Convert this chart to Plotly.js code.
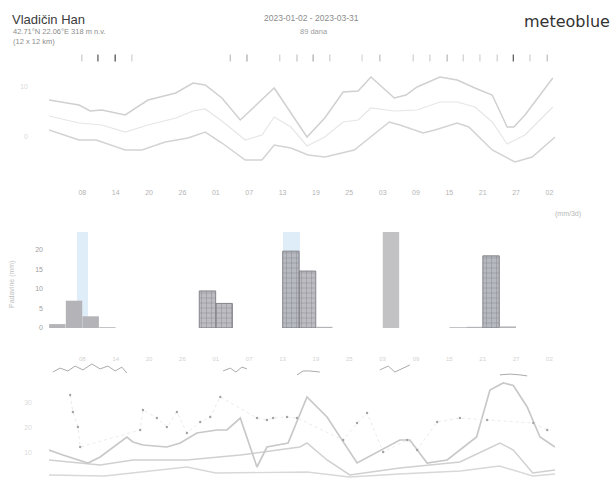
<!DOCTYPE html>
<html>
<head>
<meta charset="utf-8">
<script src="https://cdn.plot.ly/plotly-3.0.1.min.js"></script>
<style>html,body{margin:0;padding:0;background:#fff;}#chart{width:616px;height:478px;}</style>
</head>
<body>
<div id="chart"></div>
<script>
// ---- Data (day index from start of the axis) ----
// Temperature panel (°C)
const tMaxDays = [0,5.4,7.4,9.5,13.7,17.8,22.8,25.9,28.1,31.1,34.4,40.5,46.4,49.6,52.9,55.6,57.9,62.1,64.2,66.2,70.3,73.4,76.6,79.7,82.4,83.6,85.6,90.6];
const tMax     = [7.4,6.4,5.2,5.4,4.4,7.4,8.8,10.8,10.4,7.8,3.4,9.8,0,3.8,9,9.2,12,7.8,8.4,10,12,11.4,9.8,8.4,2,2,4.4,11.8];
const tMinDays = [0,5.4,8.5,13.7,16.7,20.9,25,28.1,31.1,35.3,38.3,40.5,43.5,46.6,49.6,54.9,61.2,63.1,67.3,69.4,73.4,75.5,79.7,83.8,86.9,91];
const tMin     = [1.4,-0.6,-0.6,-2.6,-2.6,-1,-0.2,1,-1.2,-4.6,-4.6,-1.6,-2.2,-3.6,-4,-2.6,3,2.4,0.8,1.4,2.8,2,-2.6,-5,-4,0];
const tMeanDays = [0,5.4,9.5,13.7,17.8,22.8,25.9,28.1,31.1,35.3,38.3,40.5,43.5,46.4,49.6,52.9,55.6,57.9,62.1,66.2,70.3,73.4,76.6,79.7,82.4,85.6,90.6];
const tMean     = [4.2,2.8,2.4,1,2.4,3.8,5.2,5.6,3.2,-0.6,0.4,4,2,-1.8,0,3,3.4,5.8,5.2,5.4,7,7,6,3,-1.4,0.4,6];

// Weather icon row (3-day steps)
const iconDays  = [5.9,8.8,11.9,14.9,32.6,35.6,41.5,44.6,47.5,50.5,56.3,59.5,65.5,68.5,71.6,74.5,77.5,80.6,83.5,86.5,89.6];
const iconShade = ['#c8c8c8','#555555','#444444','#cfcfcf','#bcbcbc','#a8a8a8','#cfcfcf','#c4c4c4','#a8a8a8','#cfcfcf','#d6d6d6','#bcbcbc','#cfcfcf','#cfcfcf','#b4b4b4','#cfcfcf','#cfcfcf','#cfcfcf','#555555','#cfcfcf','#bcbcbc'];

// Precipitation panel (mm per 3-day bin)
const precipDays = [1.5,4.5,7.5,10.5,13.5,16.5,19.5,22.5,25.5,28.5,31.5,34.5,37.5,40.5,43.5,46.5,49.5,52.5,55.5,58.5,61.5,64.5,67.5,70.5,73.5,76.5,79.5,82.5,85.5,88.5];
const precip     = [1.0,7.0,3.0,0.2,0,0,0,0,0,9.5,6.3,0,0,0,19.7,14.6,0.3,0,0,0,24.6,0,0,0,0.2,0.3,18.5,0.4,0,0];
const precipHatch= ['','','','','','','','','','+','+','','','','+','+','','','','','','','','','','','+','','',''];
const snowDays  = [6.0,43.6,79.5];
const snowWidth = [2.0,3.0,3.0];
const snowVal   = [24.5,24.5,18.5];

// Wind panel (km/h)
const gustDays = [0,2.5,7,9.2,14,15.1,16.9,21.2,23.6,26.6,30.2,32,34.4,37.4,39.2,43,46.4,50,55.4,63.1,64.9,68,71.6,73.9,76.9,79.3,81.7,83.5,86,88.3,91];
const gust     = [11.2,9.2,6,8.4,16.4,14.4,13.2,12.4,14,18,19.2,19.2,24,4.4,12.4,14,32.4,24.4,6,15.2,15.2,6,7.2,11.2,16.4,35.2,38,37,28.4,16.4,12.4];
const windDays = [0,9.2,15.1,24.8,34.4,45.1,46.4,50,54.1,63.1,73.9,81.1,83.5,87,91];
const wind     = [7.2,5.2,7.2,7.2,9.2,12.4,14,7.2,1.2,4,6.4,14,11.2,2,3.2];
const calmDays = [0,10,24.8,30,46.4,54,63,74,81,87,91];
const calm     = [1.2,0.8,4.4,2,2.4,0.4,1.6,2.8,4.8,0.8,1.6];
const dotDays  = [3.8,4.3,5.2,5.6,16.4,16.9,19.4,21.2,23,24.8,27.2,29,30.8,37.4,39.2,40.3,42.8,44.6,52.9,55.4,57.2,60.1,64.4,66.2,69.8,73.9,78.8,87.1,89.6];
const dotVal   = [33.2,26.4,20.4,12.4,19.2,27.2,24,20.4,26.4,18,22.4,24.4,32.4,24,23.2,24,24.4,24,15.2,22,26,10.4,15.2,11.2,22.4,24,23.2,22,19.2];
// Top strip of the wind panel
const stripDays = [0.7,2,3.4,4.7,6.1,7.7,9.2,10.6,11.9,13.1,14,null,31.3,32.6,33.6,34.7,35.6,null,44.6,45.7,46.9,48.7,null,59.5,61,62.2,63.7,64.9,null,81.1,82.9,84.7,86];
const stripVal  = [0.23,0.38,0.27,0.46,0.31,0.54,0.35,0.46,0.27,0.42,0.19,null,0.27,0.38,0.23,0.42,0.35,null,0.12,0.27,0.27,0.23,null,0.31,0.46,0.23,0.38,0.5,null,0.12,0.15,0.12,0.08];

// Axis ticks
const dayTicks  = [6,12,18,24,30,36,42,48,54,60,66,72,78,84,90];
const dayLabels = ['08','14','20','26','01','07','13','19','25','03','09','15','21','27','02'];
const tempTicks = [0,10];
const precipTicks = [0,5,10,15,20];
const windTicks = [10,20,30];

// ---- Layout helpers (pixel -> paper) ----
const W = 616, H = 478;
const px = v => v / W;
const py = v => 1 - v / H;
const xDom = [px(49), px(555)];

const traces = [
  {x: tMeanDays, y: tMean, xaxis:'x', yaxis:'y', mode:'lines', line:{color:'#e6e6e6', width:1.2}},
  {x: tMaxDays, y: tMax, xaxis:'x', yaxis:'y', mode:'lines', line:{color:'#d0d0d0', width:1.5}},
  {x: tMinDays, y: tMin, xaxis:'x', yaxis:'y', mode:'lines', line:{color:'#d3d3d3', width:1.5}},
  {x: iconDays, y: iconDays.map(() => 0.5), xaxis:'x', yaxis:'y4', mode:'markers',
   marker:{symbol:'line-ns-open', size:5, color: iconShade, line:{color: iconShade, width:1.2}}},
  {type:'bar', x: snowDays, y: snowVal, width: snowWidth, xaxis:'x2', yaxis:'y2',
   marker:{color:'rgba(210,229,245,0.7)', line:{width:0}}},
  {type:'bar', x: precipDays, y: precip, width: 2.95, xaxis:'x2', yaxis:'y2',
   marker:{color: precipDays.map((d,i) => i === 20 ? '#c2c2c5' : (precipHatch[i] ? 'rgba(176,176,184,0.85)' : '#b3b3b8')),
           line:{color: precipHatch.map(h => h ? '#84848a' : 'rgba(0,0,0,0)'), width: 1},
           pattern:{shape: precipHatch, fillmode:'overlay', fgcolor:'#8e8e95', size:5, solidity:0.15}}},
  {x: calmDays, y: calm, xaxis:'x3', yaxis:'y3', mode:'lines', line:{color:'#d8d8d8', width:1.4}},
  {x: windDays, y: wind, xaxis:'x3', yaxis:'y3', mode:'lines', line:{color:'#d0d0d0', width:1.5}},
  {x: gustDays, y: gust, xaxis:'x3', yaxis:'y3', mode:'lines', line:{color:'#c8c8c8', width:1.7}},
  {x: dotDays, y: dotVal, xaxis:'x3', yaxis:'y3', mode:'lines+markers',
   line:{color:'#e4e4e4', width:0.8, dash:'dot'}, marker:{color:'#a4a4a4', size:2.4}},
  {x: stripDays, y: stripVal, xaxis:'x3', yaxis:'y5', mode:'lines', connectgaps:false,
   line:{color:'#a0a0a0', width:0.9}}
];

const faint = c => ({size:7, color:c, family:'Liberation Sans, Arial, sans-serif'});
const baseX = {domain:xDom, range:[0,91], showgrid:false, zeroline:false, showline:false, ticks:'', fixedrange:true};

const layout = {
  width: W, height: H,
  margin:{l:0, r:0, t:0, b:0},
  paper_bgcolor:'#ffffff', plot_bgcolor:'rgba(0,0,0,0)',
  showlegend:false, barmode:'overlay', bargap:0,
  font:{family:'Liberation Sans, Arial, sans-serif', color:'#999'},
  xaxis: Object.assign({}, baseX, {anchor:'y', tickvals:dayTicks, ticktext:dayLabels,
          tickfont: faint('#b4b4b4'), ticklabelstandoff:17}),
  xaxis2: Object.assign({}, baseX, {anchor:'y2', showticklabels:false}),
  xaxis3: Object.assign({}, baseX, {anchor:'y3', side:'top', tickvals:dayTicks, ticktext:dayLabels,
          tickfont:{size:6, color:'#d2d2d2'}, ticklabelstandoff:15}),
  yaxis: {domain:[py(170), py(70)], range:[-6.6,13.4], showgrid:false, zeroline:false, ticks:'',
          tickvals:tempTicks, tickfont: faint('#dadada'), ticklabelstandoff:20, anchor:'x'},
  yaxis2: {domain:[py(328), py(230.5)], range:[0,25], showgrid:false, zeroline:false, ticks:'',
          tickvals:precipTicks, tickfont: faint('#a0a0a0'), ticklabelstandoff:5, anchor:'x2'},
  yaxis3: {domain:[0, py(378)], range:[0,40], showgrid:false, zeroline:false, ticks:'',
          tickvals:windTicks, tickfont: faint('#dcdcdc'), ticklabelstandoff:16, anchor:'x3'},
  yaxis4: {domain:[py(64), py(52)], range:[0,1], visible:false, anchor:'x'},
  yaxis5: {domain:[py(378), py(352)], range:[0,1], visible:false, anchor:'x3'},
  annotations: [
    {text:'Vladičin Han', x:px(10), y:py(19), xref:'paper', yref:'paper', xanchor:'left', yanchor:'middle', showarrow:false,
     font:{size:13, color:'#3c3c3c', family:'Liberation Sans, Arial, sans-serif'}},
    {text:'42.71°N 22.06°E 318 m n.v.', x:px(11), y:py(32), xref:'paper', yref:'paper', xanchor:'left', yanchor:'middle', showarrow:false,
     font:{size:7.5, color:'#8c8c8c'}},
    {text:'(12 x 12 km)', x:px(11), y:py(42), xref:'paper', yref:'paper', xanchor:'left', yanchor:'middle', showarrow:false,
     font:{size:7.5, color:'#8c8c8c'}},
    {text:'2023-01-02 - 2023-03-31', x:px(312), y:py(18), xref:'paper', yref:'paper', xanchor:'center', yanchor:'middle', showarrow:false,
     font:{size:8.5, color:'#8c8c8c'}},
    {text:'89 dana', x:px(314), y:py(32), xref:'paper', yref:'paper', xanchor:'center', yanchor:'middle', showarrow:false,
     font:{size:7.5, color:'#9c9c9c'}},
    {text:'meteoblue', x:px(612), y:py(22), xref:'paper', yref:'paper', xanchor:'right', yanchor:'middle', showarrow:false,
     font:{size:16, color:'#333333', family:'DejaVu Sans, sans-serif'}},
    {text:'(mm/3d)', x:px(568), y:py(214), xref:'paper', yref:'paper', xanchor:'center', yanchor:'middle', showarrow:false,
     font:{size:7, color:'#b8b8b8'}},
    {text:'Padavine (mm)', x:px(12), y:py(285), xref:'paper', yref:'paper', xanchor:'center', yanchor:'middle', showarrow:false,
     textangle:-90, font:{size:7, color:'#c0c0c0'}}
  ]
};

Plotly.newPlot('chart', traces, layout, {staticPlot:true, displayModeBar:false});
</script>
</body>
</html>
